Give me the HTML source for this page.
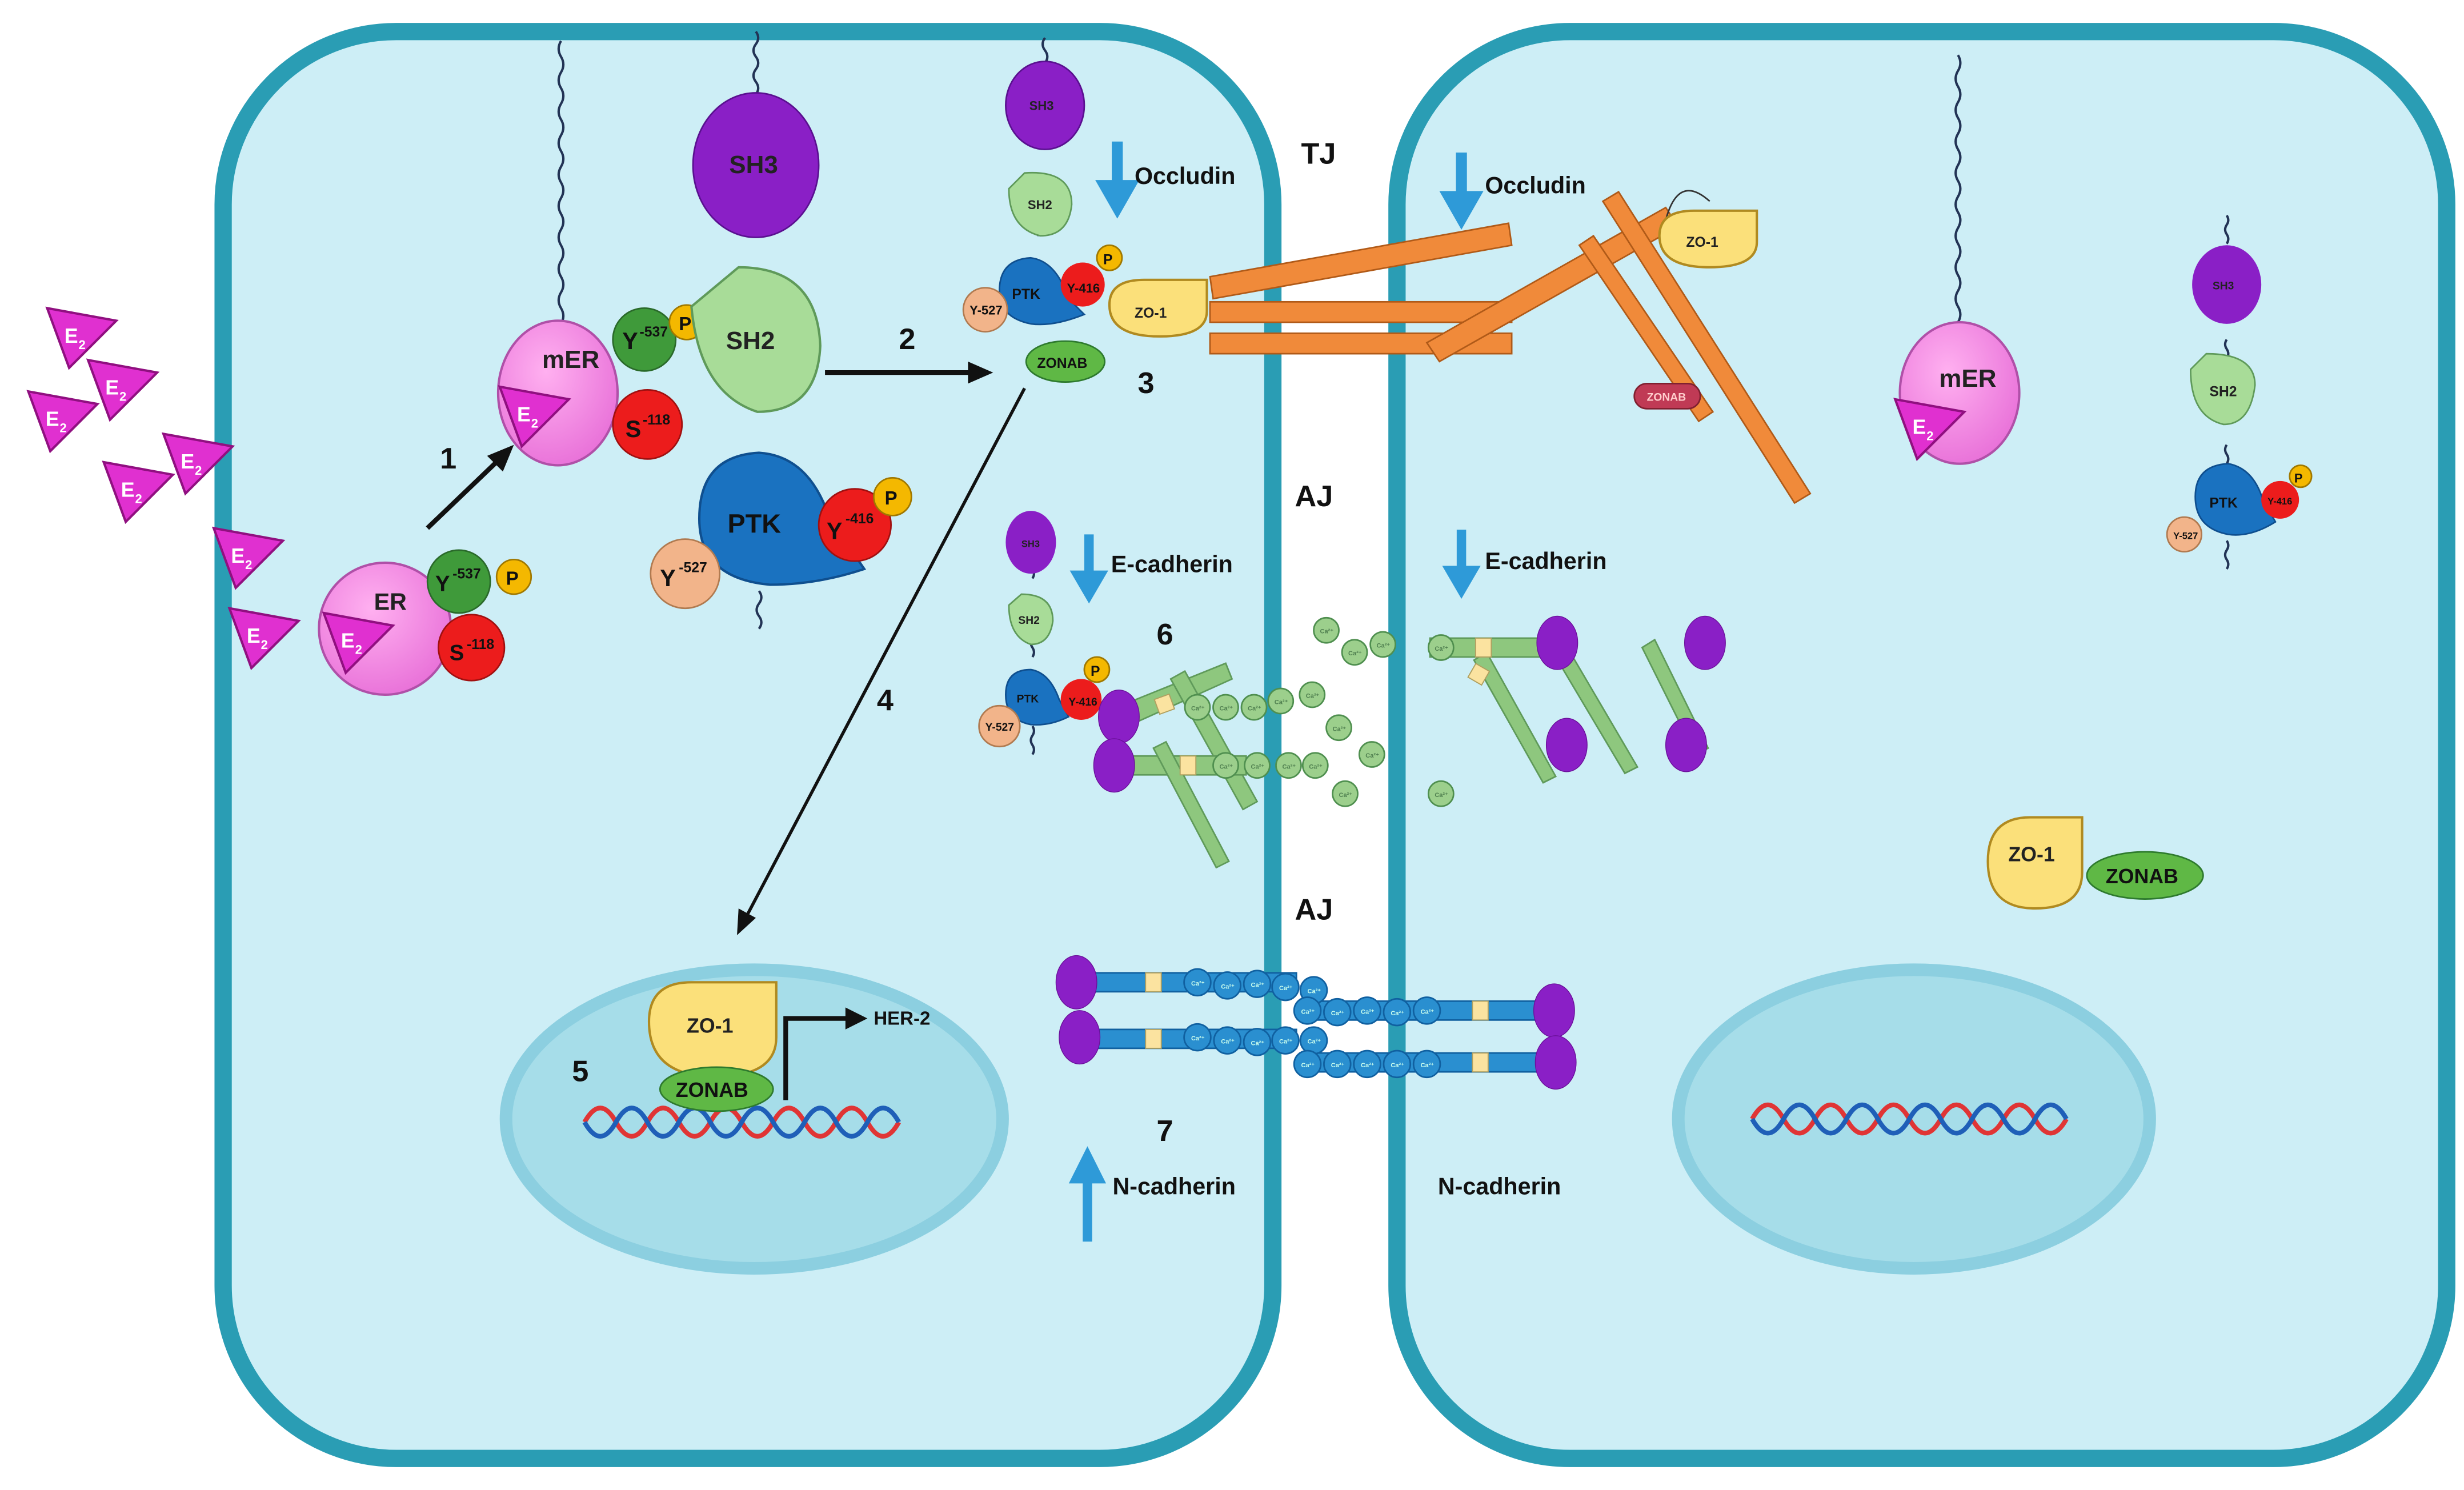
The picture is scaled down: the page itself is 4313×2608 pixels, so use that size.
<!DOCTYPE html>
<html><head><meta charset="utf-8"><style>
html,body{margin:0;padding:0;background:#fff}
svg{display:block}
text{font-family:"Liberation Sans",Arial,sans-serif;font-weight:bold}
</style></head><body>
<svg width="4313" height="2608" viewBox="0 0 1568 948" xmlns="http://www.w3.org/2000/svg">
<defs>
<radialGradient id="gp" cx="40%" cy="35%" r="70%"><stop offset="0" stop-color="#ffb0f0"/><stop offset="1" stop-color="#e870d8"/></radialGradient>
<g id="e2"><polygon points="-20,-16 24,-8 -6,22" fill="#e030d0" stroke="#901080" stroke-width="1.5"/><text x="-9" y="6" font-size="13" fill="#fff">E</text><text x="0" y="10" font-size="8" fill="#fff">2</text></g>
<g id="ca"><circle r="8" fill="#9ccf8c" stroke="#4f8f4f" stroke-width="1"/><text x="-4" y="2" font-size="4" fill="#4f7f4f">Ca²⁺</text></g>
<g id="cb"><circle r="8.5" fill="#2a8fd0" stroke="#1060a0" stroke-width="1"/><text x="-4" y="2" font-size="4" fill="#cfe">Ca²⁺</text></g>
<g id="zo"><path d="M-30,-2 Q-30,-18 -8,-18 L32,-18 L32,2 Q32,18 2,18 Q-30,18 -30,-2Z" fill="#fbe07a" stroke="#b08a20" stroke-width="1.5"/></g>
</defs>

<rect x="142" y="20" width="668" height="908" rx="110" fill="#cdeef6" stroke="#2a9db4" stroke-width="11"/>
<rect x="889" y="20" width="668" height="908" rx="110" fill="#cdeef6" stroke="#2a9db4" stroke-width="11"/>

<ellipse cx="480" cy="712" rx="158" ry="95" fill="#a6dde9" stroke="#8ccfe0" stroke-width="8"/>
<ellipse cx="1218" cy="712" rx="150" ry="95" fill="#a6dde9" stroke="#8ccfe0" stroke-width="8"/>
<path d="M372,714 q10,-18 20,0 t20,0 t20,0 t20,0 t20,0 t20,0 t20,0 t20,0 t20,0 t20,0" fill="none" stroke="#e03535" stroke-width="3"/>
<path d="M372,714 q10,18 20,0 t20,0 t20,0 t20,0 t20,0 t20,0 t20,0 t20,0 t20,0 t20,0" fill="none" stroke="#1f5fb8" stroke-width="3"/>
<path d="M1115,712 q10,-18 20,0 t20,0 t20,0 t20,0 t20,0 t20,0 t20,0 t20,0 t20,0 t20,0" fill="none" stroke="#e03535" stroke-width="3"/>
<path d="M1115,712 q10,18 20,0 t20,0 t20,0 t20,0 t20,0 t20,0 t20,0 t20,0 t20,0 t20,0" fill="none" stroke="#1f5fb8" stroke-width="3"/>

<g fill="none" stroke="#223355" stroke-width="1.5">
<path d="M357,206 q3,-5 0,-10 t0,-10 t0,-10 t0,-10 t0,-10 t0,-10 t0,-10 t0,-10 t0,-10 t0,-10 t0,-10 t0,-10 t0,-10 t0,-10 t0,-10 t0,-10 t0,-10 t0,-10"/>
<path d="M481,60 q3,-4 0,-8 t0,-8 t0,-8 t0,-8 t0,-8"/>
<path d="M481,150 q3,-4 0,-8 t0,-8"/>
<path d="M483,262 q3,-4 0,-8 t0,-8 t0,-8"/>
<path d="M483,400 q3,-4 0,-8 t0,-8 t0,-8"/>
<path d="M665,40 q3,-4 0,-8 t0,-8"/>
<path d="M660,150 q2,-3 0,-6 t0,-6"/>
<path d="M657,480 q2,-3 0,-6 t0,-6 t0,-6"/>
<path d="M657,368 q2,-3 0,-6 t0,-6"/>
<path d="M657,418 q2,-3 0,-6 t0,-6"/>
<path d="M1246,205 q3,-5 0,-10 t0,-10 t0,-10 t0,-10 t0,-10 t0,-10 t0,-10 t0,-10 t0,-10 t0,-10 t0,-10 t0,-10 t0,-10 t0,-10 t0,-10 t0,-10 t0,-10"/>
<path d="M1417,155 q2,-3 0,-6 t0,-6 t0,-6"/>
<path d="M1417,362 q2,-3 0,-6 t0,-6 t0,-6"/>
<path d="M1417,228 q2,-3 0,-6 t0,-6"/>
<path d="M1417,295 q2,-3 0,-6 t0,-6"/>
</g>

<use href="#e2" x="50" y="212"/><use href="#e2" x="76" y="245"/><use href="#e2" x="38" y="265"/>
<use href="#e2" x="124" y="292"/><use href="#e2" x="86" y="310"/><use href="#e2" x="156" y="352"/><use href="#e2" x="166" y="403"/>

<ellipse cx="355" cy="250" rx="38" ry="46" fill="url(#gp)" stroke="#b050a8" stroke-width="1.5"/>
<text x="345" y="234" font-size="16" fill="#222">mER</text>
<use href="#e2" x="338" y="262"/>
<circle cx="410" cy="216" r="20" fill="#3f9a3a" stroke="#2a6a2a"/>
<text x="396" y="222" font-size="15" fill="#111">Y</text><text x="407" y="214" font-size="9" fill="#111">-537</text>
<circle cx="437" cy="205" r="11" fill="#f4b800" stroke="#a07800"/><text x="432" y="210" font-size="12" fill="#111">P</text>
<circle cx="412" cy="270" r="22" fill="#ec1c1c" stroke="#a01010"/>
<text x="398" y="278" font-size="15" fill="#111">S</text><text x="409" y="270" font-size="9" fill="#111">-118</text>
<ellipse cx="481" cy="105" rx="40" ry="46" fill="#8a1fc6" stroke="#5a1090"/>
<text x="464" y="110" font-size="16" fill="#222">SH3</text>
<path d="M440,195 L470,170 Q520,170 522,220 Q520,262 482,262 Q445,250 440,195Z" fill="#a8dc98" stroke="#5f9a5a" stroke-width="1.5"/>
<text x="462" y="222" font-size="16" fill="#222">SH2</text>
<path d="M445,330 Q445,290 483,288 Q515,290 528,330 L550,362 Q520,372 490,372 Q445,368 445,330Z" fill="#1a72c0" stroke="#0f4f8f" stroke-width="1.5"/>
<text x="463" y="339" font-size="17" fill="#111">PTK</text>
<circle cx="544" cy="334" r="23" fill="#ec1c1c" stroke="#a01010"/>
<text x="526" y="343" font-size="15" fill="#111">Y</text><text x="538" y="333" font-size="9" fill="#111">-416</text>
<circle cx="568" cy="316" r="12" fill="#f4b800" stroke="#a07800"/><text x="563" y="321" font-size="12" fill="#111">P</text>
<circle cx="436" cy="365" r="22" fill="#f2b48a" stroke="#b07a50"/>
<text x="420" y="373" font-size="15" fill="#111">Y</text><text x="432" y="364" font-size="9" fill="#111">-527</text>

<ellipse cx="245" cy="400" rx="42" ry="42" fill="url(#gp)" stroke="#b050a8" stroke-width="1.5"/>
<text x="238" y="388" font-size="15" fill="#222">ER</text>
<use href="#e2" x="226" y="406"/>
<circle cx="292" cy="370" r="20" fill="#3f9a3a" stroke="#2a6a2a"/>
<text x="277" y="376" font-size="14" fill="#111">Y</text><text x="288" y="368" font-size="9" fill="#111">-537</text>
<circle cx="327" cy="367" r="11" fill="#f4b800" stroke="#a07800"/><text x="322" y="372" font-size="12" fill="#111">P</text>
<circle cx="300" cy="412" r="21" fill="#ec1c1c" stroke="#a01010"/>
<text x="286" y="420" font-size="14" fill="#111">S</text><text x="297" y="413" font-size="9" fill="#111">-118</text>

<g stroke="#111" stroke-width="3" fill="#111">
<line x1="272" y1="336" x2="318" y2="292"/><polygon points="327,283 310,290 320,300" stroke="none"/>
<line x1="525" y1="237" x2="618" y2="237"/><polygon points="632,237 616,230 616,244" stroke="none"/>
</g>
<line x1="652" y1="247" x2="474" y2="585" stroke="#111" stroke-width="2"/>
<polygon points="469,595 470,578 481,584" fill="#111"/>
<text x="280" y="298" font-size="19" fill="#111">1</text>
<text x="572" y="222" font-size="19" fill="#111">2</text>
<text x="724" y="250" font-size="19" fill="#111">3</text>
<text x="558" y="452" font-size="19" fill="#111">4</text>
<text x="364" y="688" font-size="19" fill="#111">5</text>
<text x="736" y="410" font-size="19" fill="#111">6</text>
<text x="736" y="726" font-size="19" fill="#111">7</text>
<text x="828" y="104" font-size="19" fill="#111">TJ</text>
<text x="824" y="322" font-size="19" fill="#111">AJ</text>
<text x="824" y="585" font-size="19" fill="#111">AJ</text>

<ellipse cx="665" cy="67" rx="25" ry="28" fill="#8a1fc6" stroke="#5a1090"/><text x="655" y="70" font-size="8" fill="#222">SH3</text>
<path d="M642,120 L652,110 Q682,108 682,130 Q680,150 662,150 Q642,145 642,120Z" fill="#a8dc98" stroke="#5f9a5a"/><text x="654" y="133" font-size="8" fill="#222">SH2</text>
<path d="M636,185 Q636,165 656,164 Q672,166 680,190 L690,200 Q670,208 656,206 Q636,202 636,185Z" fill="#1a72c0" stroke="#0f4f8f"/><text x="644" y="190" font-size="9" fill="#111">PTK</text>
<circle cx="689" cy="181" r="14" fill="#ec1c1c"/><text x="679" y="186" font-size="8" fill="#111">Y-416</text>
<circle cx="706" cy="164" r="8" fill="#f4b800" stroke="#a07800"/><text x="702" y="168" font-size="9" fill="#111">P</text>
<circle cx="627" cy="197" r="14" fill="#f2b48a" stroke="#b07a50"/><text x="617" y="200" font-size="8" fill="#111">Y-527</text>
<path d="M711,90 v28 h-8 l8,14 l8,-14 h-8" fill="#2e9ad8" stroke="#2e9ad8" stroke-width="7"/>
<text x="722" y="117" font-size="15" fill="#111">Occludin</text>
<use href="#zo" x="736" y="196"/>
<text x="722" y="202" font-size="9" fill="#222">ZO-1</text>
<ellipse cx="678" cy="230" rx="25" ry="13" fill="#5fb845" stroke="#2e7a2e"/><text x="660" y="234" font-size="9" fill="#111">ZONAB</text>

<g fill="#f08a3a" stroke="#b05a18" stroke-width="1">
<polygon points="770,176 960,142 962,156 772,190"/>
<rect x="770" y="192" width="192" height="13"/>
<rect x="770" y="212" width="192" height="13"/>
<polygon points="908,218 1060,132 1068,144 916,230"/>
<polygon points="1005,156 1014,150 1090,262 1081,268"/>
<polygon points="1020,128 1030,122 1152,314 1142,320"/>
</g>
<path d="M1060,140 q8,-30 28,-12" fill="none" stroke="#333" stroke-width="1"/>
<use href="#zo" x="1086" y="152"/><text x="1073" y="157" font-size="9" fill="#222">ZO-1</text>
<rect x="1040" y="244" width="42" height="16" rx="8" fill="#c03a55" stroke="#802030"/><text x="1048" y="255" font-size="7" fill="#fcc">ZONAB</text>
<path d="M930,97 v28 h-8 l8,14 l8,-14 h-8" fill="#2e9ad8" stroke="#2e9ad8" stroke-width="7"/>
<text x="945" y="123" font-size="15" fill="#111">Occludin</text>

<ellipse cx="656" cy="345" rx="16" ry="20" fill="#8a1fc6"/><text x="650" y="348" font-size="6" fill="#222">SH3</text>
<path d="M642,385 L650,378 Q670,378 670,395 Q668,410 656,410 Q642,405 642,385Z" fill="#a8dc98" stroke="#5f9a5a"/><text x="648" y="397" font-size="7" fill="#222">SH2</text>
<path d="M640,442 Q640,426 656,426 Q668,428 674,445 L680,456 Q668,462 656,461 Q640,458 640,442Z" fill="#1a72c0" stroke="#0f4f8f"/><text x="647" y="447" font-size="7" fill="#111">PTK</text>
<circle cx="688" cy="445" r="13" fill="#ec1c1c"/><text x="680" y="449" font-size="7" fill="#111">Y-416</text>
<circle cx="698" cy="426" r="8" fill="#f4b800" stroke="#a07800"/><text x="694" y="430" font-size="9" fill="#111">P</text>
<circle cx="636" cy="462" r="13" fill="#f2b48a" stroke="#b07a50"/><text x="627" y="465" font-size="7" fill="#111">Y-527</text>
<path d="M693,340 v26 h-7 l7,12 l7,-12 h-7" fill="#2e9ad8" stroke="#2e9ad8" stroke-width="6"/>
<text x="707" y="364" font-size="15" fill="#111">E-cadherin</text>
<path d="M930,337 v26 h-7 l7,12 l7,-12 h-7" fill="#2e9ad8" stroke="#2e9ad8" stroke-width="6"/>
<text x="945" y="362" font-size="15" fill="#111">E-cadherin</text>

<g fill="#8ec77e" stroke="#5f9a5a" stroke-width="1">
<polygon points="718,447 780,422 784,432 722,460"/>
<polygon points="745,432 754,427 800,510 791,515"/>
<rect x="718" y="481" width="75" height="12"/>
<polygon points="734,476 742,472 782,548 774,552"/>
<rect x="910" y="406" width="80" height="12"/>
<polygon points="938,420 946,415 990,494 982,498"/>
<polygon points="990,418 998,413 1042,488 1034,492"/>
<polygon points="1045,412 1053,407 1087,476 1079,480"/>
</g>
<g fill="#fbe3a0" stroke="#b0a060" stroke-width="0.7">
<rect x="736" y="443" width="10" height="10" transform="rotate(-20 741 448)"/>
<rect x="751" y="481" width="10" height="12"/>
<rect x="939" y="406" width="10" height="12"/>
<rect x="936" y="424" width="10" height="10" transform="rotate(30 941 429)"/>
</g>
<use href="#ca" x="762" y="450"/><use href="#ca" x="780" y="450"/><use href="#ca" x="798" y="450"/><use href="#ca" x="815" y="446"/><use href="#ca" x="835" y="442"/>
<use href="#ca" x="780" y="487"/><use href="#ca" x="800" y="487"/><use href="#ca" x="820" y="487"/><use href="#ca" x="837" y="487"/>
<use href="#ca" x="844" y="401"/><use href="#ca" x="862" y="415"/><use href="#ca" x="880" y="410"/><use href="#ca" x="917" y="412"/>
<use href="#ca" x="852" y="463"/><use href="#ca" x="873" y="480"/><use href="#ca" x="856" y="505"/><use href="#ca" x="917" y="505"/>
<g fill="#8a1fc6" stroke="#6a1099" stroke-width="0.5">
<ellipse cx="712" cy="456" rx="13" ry="17"/><ellipse cx="709" cy="487" rx="13" ry="17"/>
<ellipse cx="991" cy="409" rx="13" ry="17"/><ellipse cx="1085" cy="409" rx="13" ry="17"/>
<ellipse cx="997" cy="474" rx="13" ry="17"/><ellipse cx="1073" cy="474" rx="13" ry="17"/>
</g>

<g fill="#2a8fd0" stroke="#1060a0" stroke-width="1">
<rect x="685" y="619" width="140" height="12"/><rect x="685" y="655" width="140" height="12"/>
<rect x="830" y="637" width="160" height="12"/><rect x="830" y="670" width="160" height="12"/>
</g>
<g fill="#fbe3a0" stroke="#b0a060" stroke-width="0.7">
<rect x="729" y="619" width="10" height="12"/><rect x="729" y="655" width="10" height="12"/>
<rect x="937" y="637" width="10" height="12"/><rect x="937" y="670" width="10" height="12"/>
</g>
<use href="#cb" x="762" y="625"/><use href="#cb" x="781" y="627"/><use href="#cb" x="800" y="626"/><use href="#cb" x="818" y="628"/><use href="#cb" x="836" y="630"/>
<use href="#cb" x="762" y="660"/><use href="#cb" x="781" y="662"/><use href="#cb" x="800" y="663"/><use href="#cb" x="818" y="662"/><use href="#cb" x="836" y="662"/>
<use href="#cb" x="832" y="643"/><use href="#cb" x="851" y="644"/><use href="#cb" x="870" y="643"/><use href="#cb" x="889" y="644"/><use href="#cb" x="908" y="643"/>
<use href="#cb" x="832" y="677"/><use href="#cb" x="851" y="677"/><use href="#cb" x="870" y="677"/><use href="#cb" x="889" y="677"/><use href="#cb" x="908" y="677"/>
<g fill="#8a1fc6" stroke="#6a1099" stroke-width="0.5">
<ellipse cx="685" cy="625" rx="13" ry="17"/><ellipse cx="687" cy="660" rx="13" ry="17"/>
<ellipse cx="989" cy="643" rx="13" ry="17"/><ellipse cx="990" cy="676" rx="13" ry="17"/>
</g>
<path d="M692,790 v-40 h-7 l7,-14 l7,14 h-7" fill="#2e9ad8" stroke="#2e9ad8" stroke-width="6"/>
<text x="708" y="760" font-size="15" fill="#111">N-cadherin</text>
<text x="915" y="760" font-size="15" fill="#111">N-cadherin</text>

<path d="M413,650 Q413,625 440,625 L494,625 L494,660 Q494,685 455,685 Q413,685 413,650Z" fill="#fbe07a" stroke="#b08a20" stroke-width="1.5"/>
<text x="437" y="657" font-size="13" fill="#222">ZO-1</text>
<ellipse cx="456" cy="693" rx="36" ry="14" fill="#5fb845" stroke="#2e7a2e"/><text x="430" y="698" font-size="13" fill="#111">ZONAB</text>
<path d="M500,700 V648 H540" fill="none" stroke="#111" stroke-width="3"/><polygon points="552,648 538,641 538,655" fill="#111"/>
<text x="556" y="652" font-size="12" fill="#111">HER-2</text>

<ellipse cx="1247" cy="250" rx="38" ry="45" fill="url(#gp)" stroke="#b050a8" stroke-width="1.5"/>
<text x="1234" y="246" font-size="16" fill="#222">mER</text>
<use href="#e2" x="1226" y="270"/>
<ellipse cx="1417" cy="181" rx="22" ry="25" fill="#8a1fc6"/><text x="1408" y="184" font-size="7" fill="#222">SH3</text>
<path d="M1394,235 L1404,225 Q1435,225 1435,245 Q1432,270 1415,270 Q1394,265 1394,235Z" fill="#a8dc98" stroke="#5f9a5a"/><text x="1406" y="252" font-size="9" fill="#222">SH2</text>
<path d="M1397,316 Q1397,296 1418,295 Q1434,298 1440,318 L1448,332 Q1432,342 1418,340 Q1397,336 1397,316Z" fill="#1a72c0" stroke="#0f4f8f"/><text x="1406" y="323" font-size="9" fill="#111">PTK</text>
<circle cx="1451" cy="318" r="12" fill="#ec1c1c"/><text x="1443" y="321" font-size="6" fill="#111">Y-416</text>
<circle cx="1464" cy="303" r="7" fill="#f4b800" stroke="#a07800"/><text x="1460" y="307" font-size="8" fill="#111">P</text>
<circle cx="1390" cy="340" r="11" fill="#f2b48a" stroke="#b07a50"/><text x="1383" y="343" font-size="6" fill="#111">Y-527</text>
<path d="M1265,548 Q1265,520 1292,520 L1325,520 L1325,555 Q1325,578 1295,578 Q1265,578 1265,548Z" fill="#fbe07a" stroke="#b08a20" stroke-width="1.5"/>
<text x="1278" y="548" font-size="13" fill="#222">ZO-1</text>
<ellipse cx="1365" cy="557" rx="37" ry="15" fill="#5fb845" stroke="#2e7a2e"/><text x="1340" y="562" font-size="13" fill="#111">ZONAB</text>
</svg>
</body></html>
